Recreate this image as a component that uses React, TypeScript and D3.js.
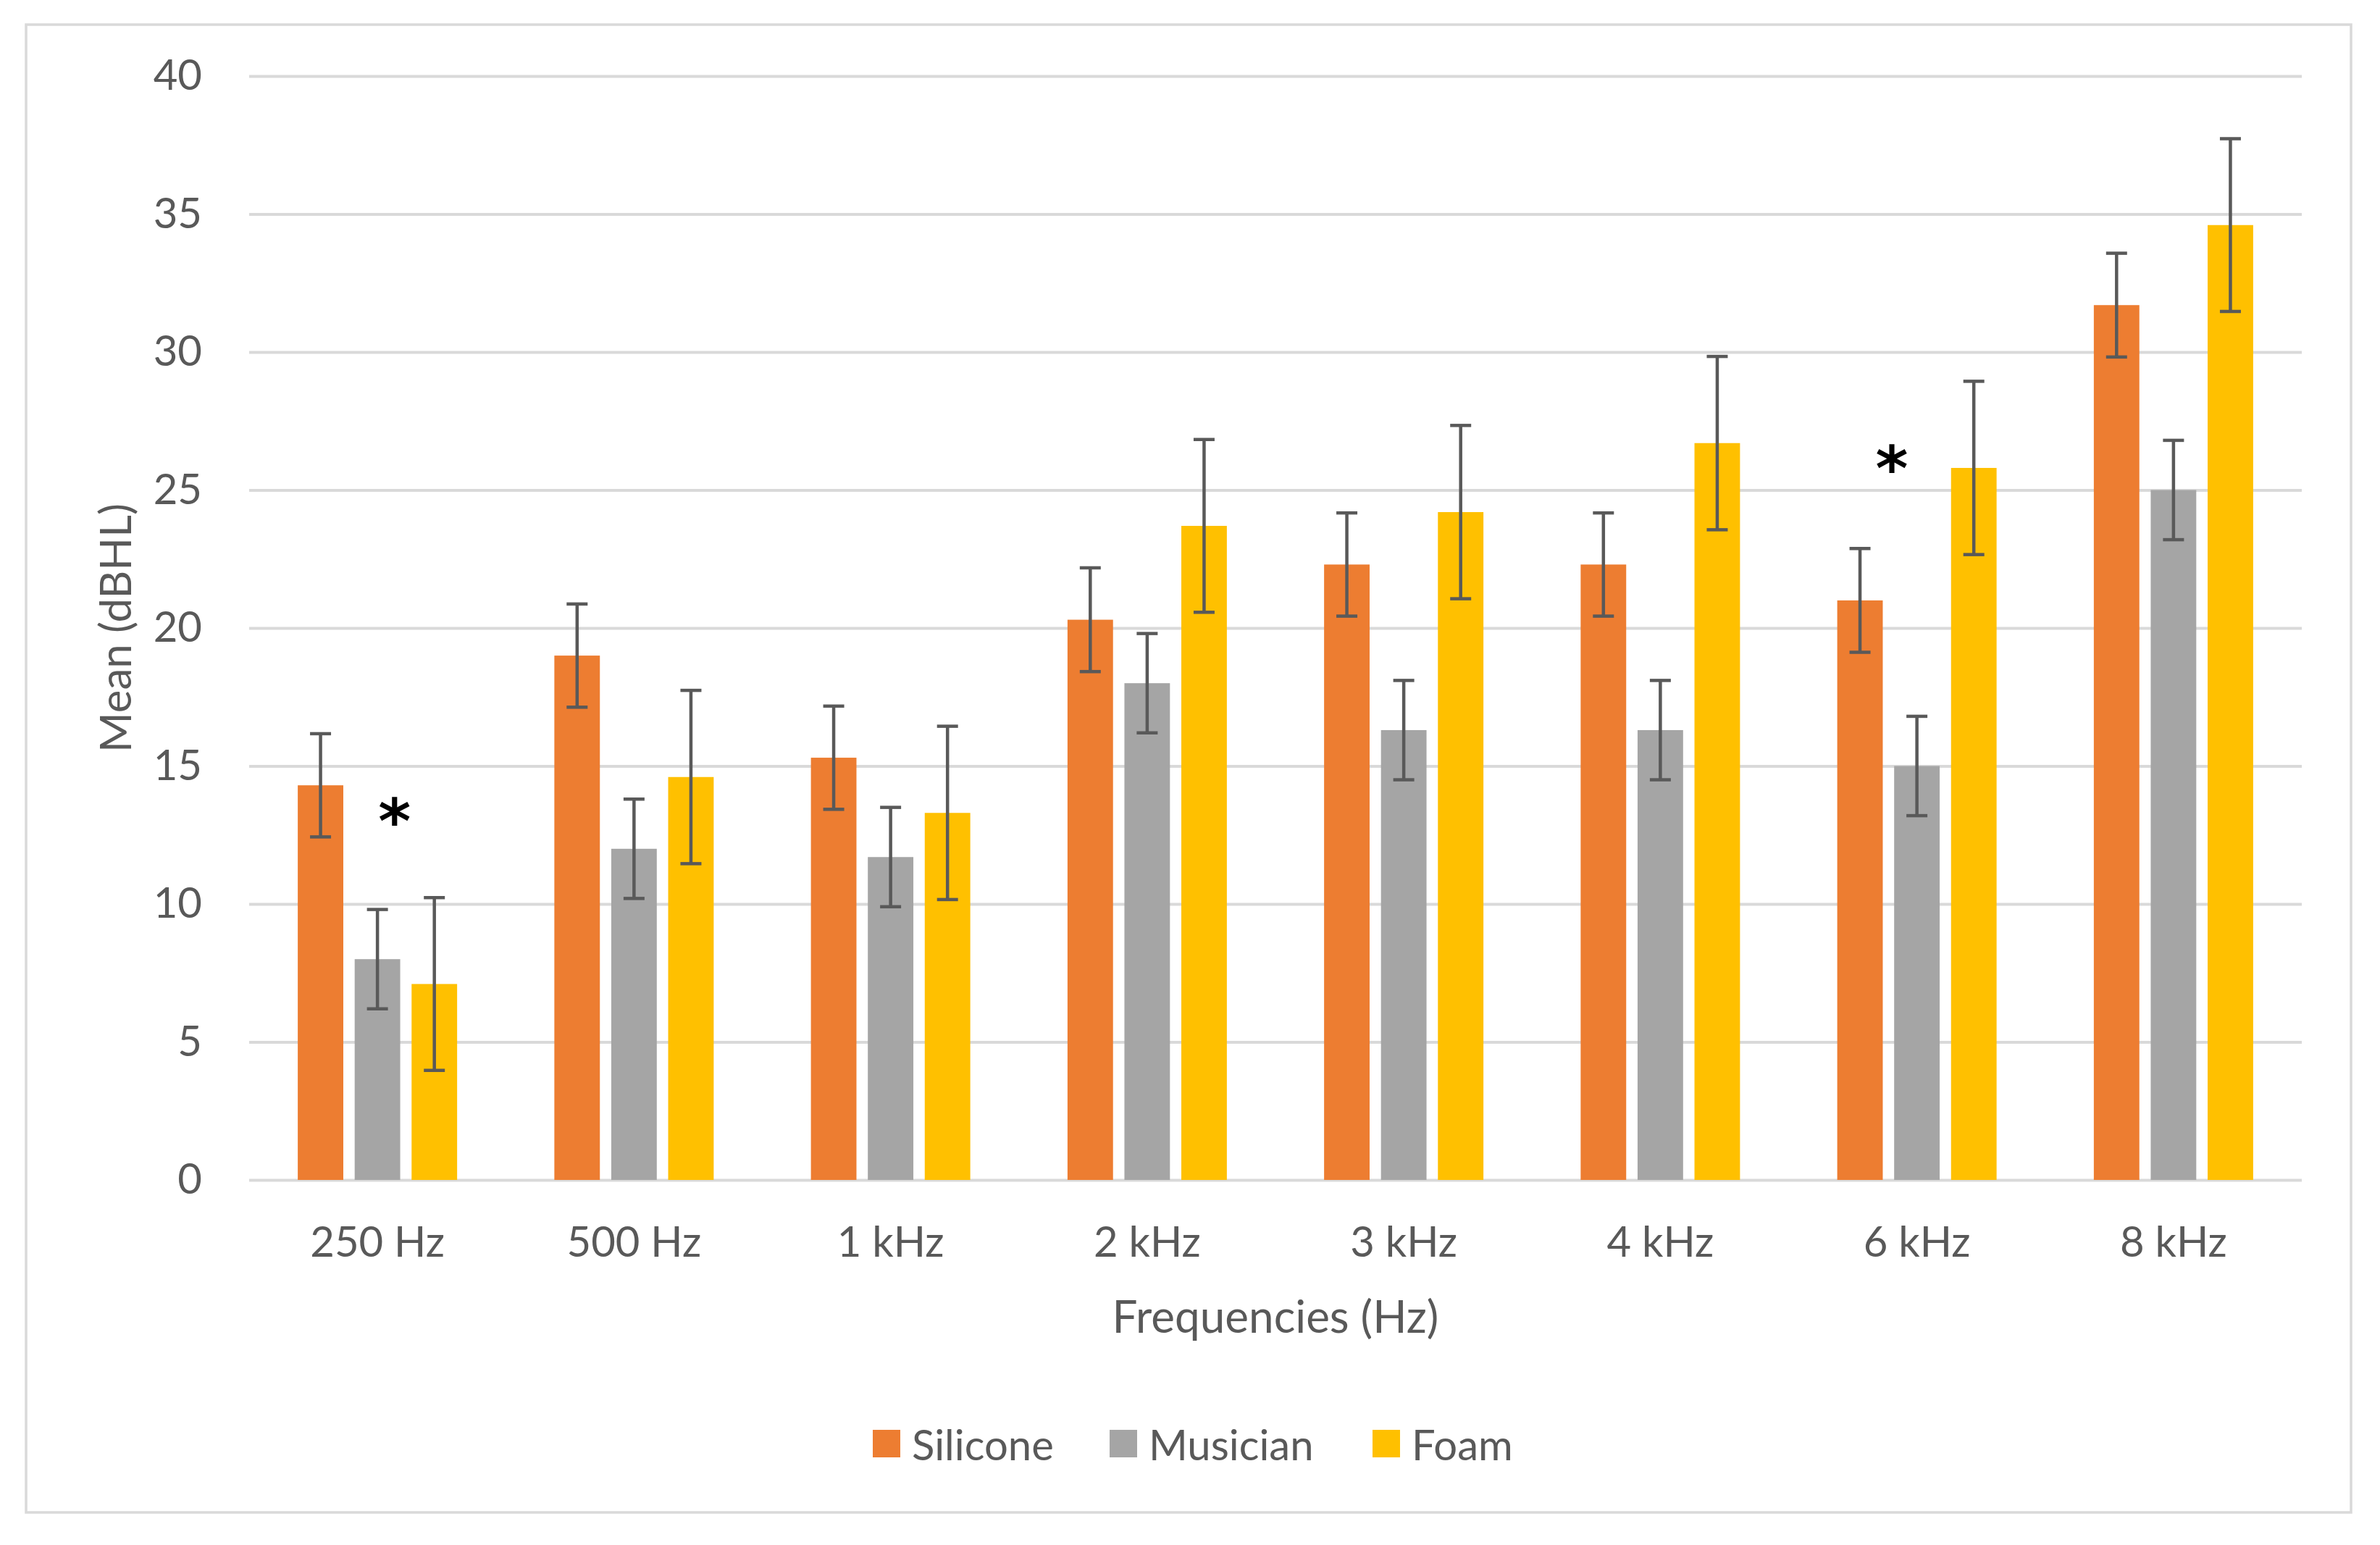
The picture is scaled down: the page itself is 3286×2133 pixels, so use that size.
import React, { useEffect, useRef } from 'react';
import * as d3 from 'd3';

const categories = ['250 Hz', '500 Hz', '1 kHz', '2 kHz', '3 kHz', '4 kHz', '6 kHz', '8 kHz'];
const seriesNames = ['Silicone', 'Musician', 'Foam'];
const seriesColors = ['#ED7D31', '#A5A5A5', '#FFC000'];

const silicone = [14.3, 19.0, 15.3, 20.3, 22.3, 22.3, 21.0, 31.7];
const musician = [8.0, 12.0, 11.7, 18.0, 16.3, 16.3, 15.0, 25.0];
const foam = [7.1, 14.6, 13.3, 23.7, 24.2, 26.7, 25.8, 34.6];

const siliconeErr = [1.87, 1.87, 1.87, 1.88, 1.87, 1.87, 1.88, 1.88];
const musicianErr = [1.8, 1.8, 1.8, 1.8, 1.8, 1.8, 1.8, 1.8];
const foamErr = [3.13, 3.14, 3.14, 3.13, 3.14, 3.14, 3.14, 3.13];

const yTicks = [0, 5, 10, 15, 20, 25, 30, 35, 40];

// significance markers: category, position inside the band (0..1), value
const markers = [
  { category: '250 Hz', pos: 0.567, value: 13.3 },
  { category: '6 kHz', pos: 0.402, value: 26.1 },
];

const FONT = 'Lato, "Open Sans", sans-serif';
const TEXT = '#595959';
const GRID = '#D9D9D9';

const App = () => {
  const ref = useRef(null);

  useEffect(() => {
    draw();
  }, []);

  const draw = () => {
    const svg = d3.select(ref.current);
    svg.selectAll('*').remove();

    const left = 344, right = 3178, top = 105, bottom = 1629;
    const values = [silicone, musician, foam];
    const errs = [siliconeErr, musicianErr, foamErr];

    // outer frame
    svg.append('rect')
      .attr('x', 36).attr('y', 34)
      .attr('width', 3246 - 36).attr('height', 2088 - 34)
      .attr('fill', 'white')
      .attr('stroke', GRID)
      .attr('stroke-width', 3.5);

    const x0 = d3.scaleBand().domain(categories).range([left, right]).padding(0);
    const groupW = 220;
    const x1 = d3.scaleBand().domain(seriesNames).range([0, groupW]).paddingInner(0.2).paddingOuter(0);
    const y = d3.scaleLinear().domain([0, 40]).range([bottom, top]);

    // y axis + gridlines
    const yAxis = d3.axisLeft(y)
      .tickValues(yTicks)
      .tickSize(-(right - left))
      .tickPadding(65);
    const gy = svg.append('g')
      .attr('transform', `translate(${left},0)`)
      .call(yAxis);
    gy.select('.domain').remove();
    gy.selectAll('.tick line').attr('stroke', GRID).attr('stroke-width', 4);
    gy.selectAll('.tick text')
      .attr('fill', TEXT)
      .attr('font-family', FONT)
      .attr('font-size', 58);

    // bars
    categories.forEach((cat, i) => {
      seriesNames.forEach((s, j) => {
        const v = values[j][i];
        svg.append('rect')
          .attr('x', x0(cat) + (x0.bandwidth() - groupW) / 2 + x1(s))
          .attr('y', y(v))
          .attr('width', x1.bandwidth())
          .attr('height', y(0) - y(v))
          .attr('fill', seriesColors[j]);
      });
    });

    // error bars
    const capW = 29;
    categories.forEach((cat, i) => {
      seriesNames.forEach((s, j) => {
        const v = values[j][i];
        const e = errs[j][i];
        const cx = x0(cat) + (x0.bandwidth() - groupW) / 2 + x1(s) + x1.bandwidth() / 2;
        const g = svg.append('g').attr('stroke', '#595959').attr('stroke-width', 4.5);
        g.append('line').attr('x1', cx).attr('x2', cx).attr('y1', y(v + e)).attr('y2', y(v - e));
        g.append('line').attr('x1', cx - capW / 2).attr('x2', cx + capW / 2).attr('y1', y(v + e)).attr('y2', y(v + e));
        g.append('line').attr('x1', cx - capW / 2).attr('x2', cx + capW / 2).attr('y1', y(v - e)).attr('y2', y(v - e));
      });
    });

    // x axis labels
    const xAxis = d3.axisBottom(x0).tickSize(0).tickPadding(65);
    const gx = svg.append('g')
      .attr('transform', `translate(0,${bottom})`)
      .call(xAxis);
    gx.select('.domain').remove();
    gx.selectAll('.tick text')
      .attr('fill', TEXT)
      .attr('font-family', FONT)
      .attr('font-size', 58);

    // significance asterisks
    markers.forEach(m => {
      svg.append('text')
        .attr('x', x0(m.category) + m.pos * x0.bandwidth())
        .attr('y', y(m.value) + 42)
        .attr('text-anchor', 'middle')
        .attr('font-family', '"DejaVu Sans", sans-serif')
        .attr('font-weight', 'bold')
        .attr('font-size', 86)
        .attr('fill', 'black')
        .text('*');
    });

    // axis titles
    svg.append('text')
      .attr('x', (left + right) / 2)
      .attr('y', 1840)
      .attr('text-anchor', 'middle')
      .attr('font-family', FONT)
      .attr('font-size', 62)
      .attr('fill', TEXT)
      .text('Frequencies (Hz)');

    svg.append('text')
      .attr('transform', `translate(158,${(top + bottom) / 2}) rotate(-90)`)
      .attr('text-anchor', 'middle')
      .attr('dominant-baseline', 'central')
      .attr('font-family', FONT)
      .attr('font-size', 60)
      .attr('fill', TEXT)
      .text('Mean (dBHL)');

    // legend
    const legendX = [1205, 1532, 1895];
    seriesNames.forEach((s, j) => {
      svg.append('rect')
        .attr('x', legendX[j]).attr('y', 1974)
        .attr('width', 38).attr('height', 38)
        .attr('fill', seriesColors[j]);
      svg.append('text')
        .attr('x', legendX[j] + 54)
        .attr('y', 1993)
        .attr('dominant-baseline', 'central')
        .attr('font-family', FONT)
        .attr('font-size', 58)
        .attr('fill', TEXT)
        .text(s);
    });
  };

  return (
    <svg ref={ref} width="3286" height="2133" style={{ position: 'absolute', left: 0, top: 0, background: 'white' }}></svg>
  );
};

export default App;
